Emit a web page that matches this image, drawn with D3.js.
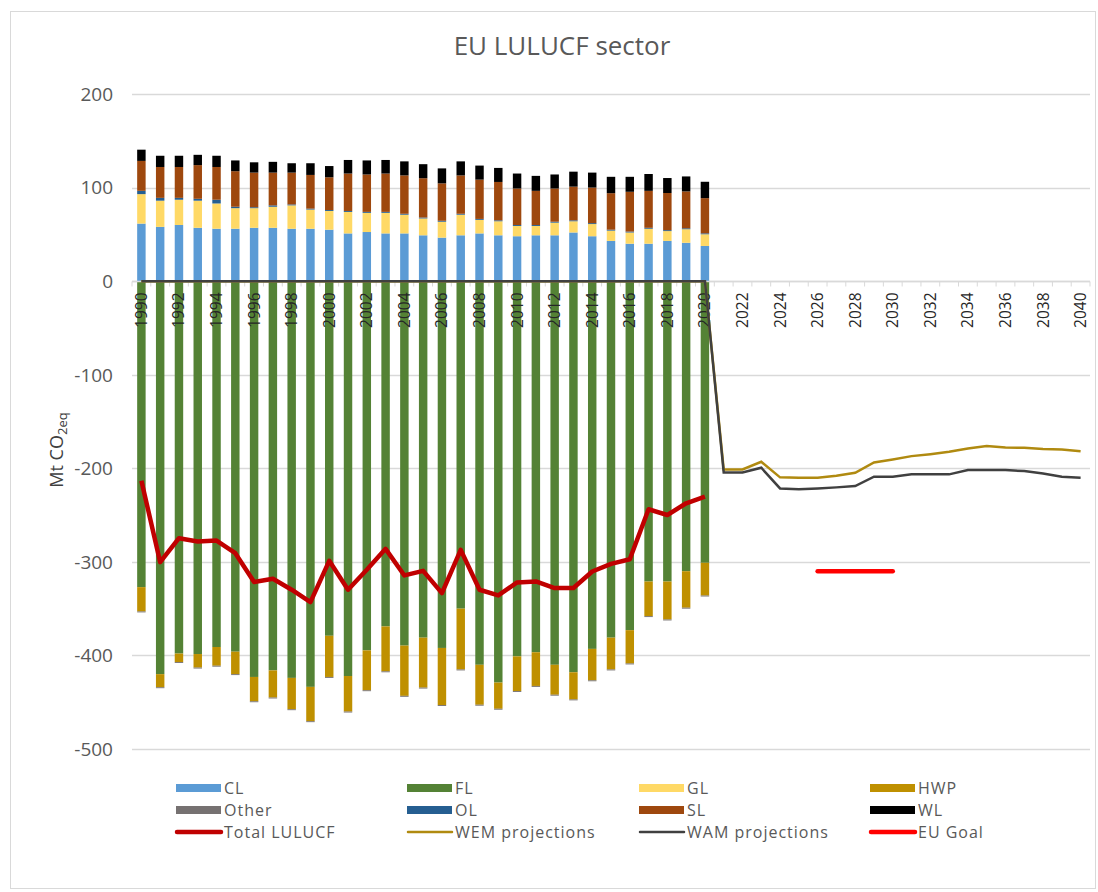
<!DOCTYPE html>
<html>
<head>
<meta charset="utf-8">
<script src="https://cdn.jsdelivr.net/npm/d3@7"></script>
<style>
body { margin: 0; background: #fff; }
text { font-family: "Open Sans", sans-serif; }
</style>
</head>
<body>
<div id="chart"></div>
<script>
var years = [1990,1991,1992,1993,1994,1995,1996,1997,1998,1999,2000,2001,2002,2003,2004,2005,2006,2007,2008,2009,2010,
  2011,2012,2013,2014,2015,2016,2017,2018,2019,2020,2021,2022,2023,2024,2025,2026,2027,2028,2029,2030,
  2031,2032,2033,2034,2035,2036,2037,2038,2039,2040];
var histYears = years.slice(0, 31);

// Mt CO2eq per category, 1990-2020
var CL = [61.5,58,60,57,56,56,57,57,56,56,55,51,52.5,51,51,49,46.5,49,51,49,48,49,49,52,48,43,40,40,43,41,37.6];
var FL = [-327,-420,-398,-398.5,-391,-396,-423,-416,-424,-433.6,-379,-422,-394.6,-369,-389.5,-381,-392,-350,-410,-429,-401,-396.6,-410,-418,-393,-381,-373,-321,-321,-310,-301];
var GL = [31.5,28,27,29,27,22,21,22.5,25,20.5,20,23,20.5,22,20,18,17,22,14.5,15,11,10,13.5,12,13,11,12,16,10.5,14.5,12.5];
var HWP = [-26,-14,-9,-14.5,-20,-24,-26,-29,-33.5,-36.7,-44,-38,-42.6,-48,-53.7,-53.4,-61,-65,-42.7,-28,-37,-36,-32,-29,-33.6,-34,-35.6,-37,-40.6,-39,-35];
var Other = [-1,-1,-1,-1,-1,-1,-1,-1,-1,-1,-1,-1,-1,-1,-1,-1,-1,-1,-1,-1,-1,-1,-1,-1,-1,-1,-1,-1,-1,-1,-1];
var OL = [3.5,3,2,2,4,1.5,1,1.5,1,1,1,1,1,1,1,1,1,1,1,1,1,1,1,1,1,1,1,1,1,1,1];
var SL = [32,33,33,36,35,38,37,35,34,36,35,40,40,41,41,42,40,41,42,41,39,36.5,35.5,36,38,39,42.5,39.5,39.7,39.4,37.6];
var WL = [12,12,12,11,12,11.5,11,11.5,10,12.5,12,14.5,15,14.5,15,15,16,15,15,15,16,16,15,16,16,17.5,16,18,16,16,17.5];

var totalLULUCF = [-213.2,-300.3,-274.7,-278.3,-277.2,-290.7,-321.6,-318.1,-329.8,-343,-298.9,-329.8,-308.5,-286.1,-314.5,-309.6,
  -333.4,-287.2,-329.8,-335.9,-322,-320.9,-328,-328,-310.3,-302.1,-297.2,-243.8,-249.9,-237.4,-230.3];

// projections, 1990-2040 (historical years are plotted as 0 in the source)
var wem = [0,0,0,0,0,0,0,0,0,0,0,0,0,0,0,0,0,0,0,0,0,0,0,0,0,0,0,0,0,0,0,
  -201.2,-201.2,-193,-209.7,-210.1,-210.1,-208,-204.8,-193.7,-190.5,-187,-184.9,-182.4,-178.8,-176.3,-177.8,-178.1,-179.5,-179.9,-181.7];
var wam = [0,0,0,0,0,0,0,0,0,0,0,0,0,0,0,0,0,0,0,0,0,0,0,0,0,0,0,0,0,0,0,
  -204.4,-204.4,-199.4,-221.5,-222.5,-221.5,-220.4,-219,-209,-209,-206.5,-206.5,-206.5,-201.9,-201.9,-201.9,-203,-205.5,-209,-210.1];

var goalYears = [2026, 2027, 2028, 2029, 2030];
var goal = [-310, -310, -310, -310, -310];

var yTicks = [200, 100, 0, -100, -200, -300, -400, -500];
var xTickLabels = ["1990","1992","1994","1996","1998","2000","2002","2004","2006","2008","2010","2012","2014","2016","2018","2020",
  "2022","2024","2026","2028","2030","2032","2034","2036","2038","2040"];

var keys = ["CL","FL","GL","HWP","Other","OL","SL","WL"];
var seriesData = {CL: CL, FL: FL, GL: GL, HWP: HWP, Other: Other, OL: OL, SL: SL, WL: WL};
var colors = {CL: "#5B9BD5", FL: "#548235", GL: "#FFD966", HWP: "#BF9000", Other: "#767171",
  OL: "#255E91", SL: "#9E480E", WL: "#000000",
  total: "#C00000", wem: "#B08A10", wam: "#404040", goal: "#FF0000"};

var width = 1098, height = 892;

var svg = d3.select("#chart").append("svg")
  .attr("width", width)
  .attr("height", height);

svg.append("rect")
  .attr("x", 10.5).attr("y", 11.5)
  .attr("width", 1085).attr("height", 877)
  .attr("fill", "#fff")
  .attr("stroke", "#D9D9D9");

var x = d3.scaleBand()
  .domain(years)
  .range([132, 1090])
  .paddingInner(0.55)
  .paddingOuter(0.275);
var bw = x.bandwidth();
var cx = function(yr) { return x(yr) + bw / 2; };

var y = d3.scaleLinear().domain([-500, 200]).range([749, 94]);

// title
svg.append("text")
  .attr("x", 562).attr("y", 55)
  .attr("text-anchor", "middle")
  .attr("fill", "#595959")
  .style("font-size", "26px")
  .text("EU LULUCF sector");

// gridlines
svg.append("g").selectAll("line")
  .data(yTicks)
  .enter().append("line")
  .attr("x1", 132).attr("x2", 1090)
  .attr("y1", function(d) { return Math.round(y(d)) + 0.5; })
  .attr("y2", function(d) { return Math.round(y(d)) + 0.5; })
  .attr("stroke", "#D9D9D9")
  .attr("stroke-width", 1.3);

// y tick labels
svg.append("g").selectAll("text")
  .data(yTicks)
  .enter().append("text")
  .attr("x", 113)
  .attr("y", function(d) { return y(d); })
  .attr("dy", "0.36em")
  .attr("text-anchor", "end")
  .attr("fill", "#595959")
  .style("font-size", "19px")
  .text(function(d) { return d; });

// y axis title
svg.append("text")
  .attr("transform", "translate(63,450) rotate(-90)")
  .attr("text-anchor", "middle")
  .attr("fill", "#404040")
  .style("font-size", "18px")
  .text("Mt CO")
  .append("tspan")
  .attr("dy", "0.3em")
  .style("font-size", "13px")
  .text("2eq");

// stacked bars
var rows = histYears.map(function(yr, i) {
  var r = {year: yr};
  keys.forEach(function(k) { r[k] = seriesData[k][i]; });
  return r;
});
var stacked = d3.stack().keys(keys).offset(d3.stackOffsetDiverging)(rows);

svg.append("g").selectAll("g")
  .data(stacked)
  .enter().append("g")
  .attr("fill", function(d) { return colors[d.key]; })
  .selectAll("rect")
  .data(function(d) { return d; })
  .enter().append("rect")
  .attr("x", function(d) { return x(d.data.year); })
  .attr("y", function(d) { return y(Math.max(d[0], d[1])); })
  .attr("width", bw)
  .attr("height", function(d) { return Math.abs(y(d[0]) - y(d[1])); });

// horizontal axis + tick marks
var y0 = Math.round(y(0)) + 0.5;
svg.append("line")
  .attr("x1", 132).attr("x2", 1090)
  .attr("y1", y0).attr("y2", y0)
  .attr("stroke", "#D9D9D9").attr("stroke-width", 1.3);
var step = x.step();
var tickXs = years.map(function(yr) { return x(yr) - (step - bw) / 2; });
tickXs.push(x(2040) + bw + (step - bw) / 2);
svg.append("g").selectAll("line")
  .data(tickXs)
  .enter().append("line")
  .attr("x1", function(d) { return d; })
  .attr("x2", function(d) { return d; })
  .attr("y1", y0).attr("y2", y0 + 5)
  .attr("stroke", "#D9D9D9");

// x tick labels
svg.append("g").selectAll("text")
  .data(xTickLabels)
  .enter().append("text")
  .attr("transform", function(d) { return "translate(" + (cx(+d) + 5.5) + "," + (y0 + 11) + ") rotate(-90)"; })
  .attr("text-anchor", "end")
  .attr("fill", "#262626")
  .style("font-size", "15.5px")
  .text(function(d) { return d; });

// lines
var line = d3.line()
  .x(function(d) { return cx(d[0]); })
  .y(function(d) { return y(d[1]); });

svg.append("path")
  .datum(histYears.map(function(yr, i) { return [yr, totalLULUCF[i]]; }))
  .attr("d", line)
  .attr("fill", "none")
  .attr("stroke", colors.total)
  .attr("stroke-width", 4.5)
  .attr("stroke-linejoin", "round");

svg.append("path")
  .datum(years.map(function(yr, i) { return [yr, wem[i]]; }))
  .attr("d", line)
  .attr("fill", "none")
  .attr("stroke", colors.wem)
  .attr("stroke-width", 2.5);

svg.append("path")
  .datum(years.map(function(yr, i) { return [yr, wam[i]]; }))
  .attr("d", line)
  .attr("fill", "none")
  .attr("stroke", colors.wam)
  .attr("stroke-width", 2.5);

svg.append("path")
  .datum(goalYears.map(function(yr, i) { return [yr, goal[i]]; }))
  .attr("d", line)
  .attr("fill", "none")
  .attr("stroke", colors.goal)
  .attr("stroke-width", 4.5)
  .attr("stroke-linecap", "round");

// legend
var legendItems = [
  {name: "CL", key: "CL", type: "bar"}, {name: "FL", key: "FL", type: "bar"},
  {name: "GL", key: "GL", type: "bar"}, {name: "HWP", key: "HWP", type: "bar"},
  {name: "Other", key: "Other", type: "bar"}, {name: "OL", key: "OL", type: "bar"},
  {name: "SL", key: "SL", type: "bar"}, {name: "WL", key: "WL", type: "bar"},
  {name: "Total LULUCF", key: "total", type: "line", w: 4.5},
  {name: "WEM projections", key: "wem", type: "line", w: 2.5},
  {name: "WAM projections", key: "wam", type: "line", w: 2.5},
  {name: "EU Goal", key: "goal", type: "line", w: 4.5}
];
var legendCols = [176, 407, 639, 870];
var legendRows = [788, 810, 832];

var lg = svg.append("g").selectAll("g")
  .data(legendItems)
  .enter().append("g")
  .attr("transform", function(d, i) { return "translate(" + legendCols[i % 4] + "," + legendRows[Math.floor(i / 4)] + ")"; });

lg.filter(function(d) { return d.type === "bar"; })
  .append("rect")
  .attr("x", 0).attr("y", -4)
  .attr("width", 45).attr("height", 8)
  .attr("fill", function(d) { return colors[d.key]; });

lg.filter(function(d) { return d.type === "line"; })
  .append("line")
  .attr("x1", 1).attr("x2", 45)
  .attr("y1", 0).attr("y2", 0)
  .attr("stroke", function(d) { return colors[d.key]; })
  .attr("stroke-width", function(d) { return d.w; })
  .attr("stroke-linecap", "round");

lg.append("text")
  .attr("x", 48)
  .attr("y", 0)
  .attr("dy", "0.36em")
  .attr("fill", "#595959")
  .style("font-size", "16px")
  .style("letter-spacing", "1px")
  .text(function(d) { return d.name; });
</script>
</body>
</html>
